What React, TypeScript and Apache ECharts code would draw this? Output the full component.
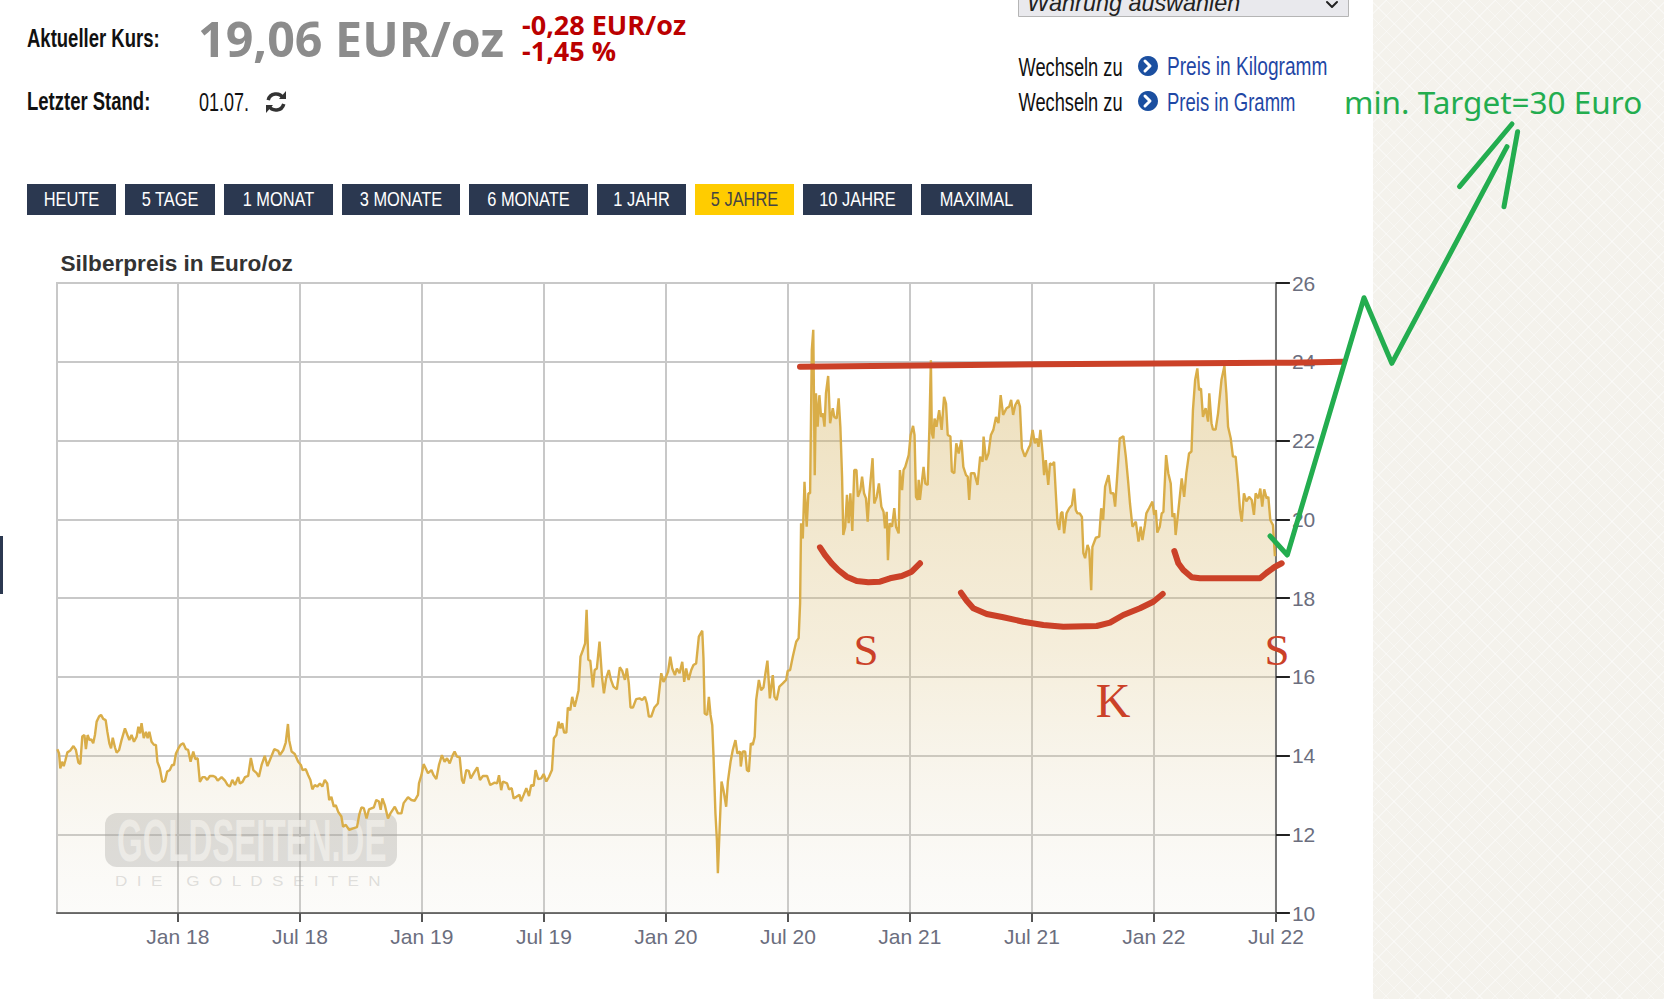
import React, { useEffect, useRef } from "react";
import * as echarts from "echarts";

const yAxisMin = 10;
const yAxisMax = 26;
const yInterval = 2;
const xMin = 2017.5045;
const xMax = 2022.5;
const tickYears = [2018, 2018.5, 2019, 2019.5, 2020, 2020.5, 2021, 2021.5, 2022, 2022.5];
const tickLabels = ["Jan 18", "Jul 18", "Jan 19", "Jul 19", "Jan 20", "Jul 20", "Jan 21", "Jul 21", "Jan 22", "Jul 22"];

const dates = [
  2017.506,2017.513,2017.518,2017.525,2017.532,2017.539,2017.547,2017.558,2017.572,2017.582,2017.592,2017.6,2017.608,2017.617,2017.623,2017.63,2017.638,2017.645,2017.653,2017.66,2017.667,2017.677,2017.685,2017.694,2017.704,2017.711,2017.719,2017.726,2017.733,2017.742,2017.749,2017.759,2017.769,2017.783,2017.793,2017.801,2017.81,2017.82,2017.831,2017.838,2017.845,2017.851,2017.86,2017.869,2017.876,2017.883,2017.892,2017.902,2017.91,2017.916,2017.926,2017.936,2017.947,2017.956,2017.967,2017.976,2017.984,2017.992,
  2018.002,2018.011,2018.022,2018.033,2018.042,2018.052,2018.063,2018.071,2018.081,2018.09,2018.101,2018.111,2018.12,2018.131,2018.145,2018.154,2018.163,2018.179,2018.193,2018.204,2018.213,2018.223,2018.234,2018.247,2018.254,2018.265,2018.275,2018.288,2018.299,2018.309,2018.322,2018.332,2018.343,2018.356,2018.367,2018.38,2018.395,2018.411,2018.418,2018.432,2018.442,2018.451,2018.456,2018.466,2018.479,2018.493,
  2018.504,2018.511,2018.524,2018.534,2018.543,2018.551,2018.561,2018.571,2018.582,2018.592,2018.602,2018.612,2018.62,2018.629,2018.639,2018.647,2018.657,2018.67,2018.677,2018.688,2018.702,2018.718,2018.734,2018.743,2018.752,2018.762,2018.773,2018.783,2018.803,2018.813,2018.824,2018.831,2018.838,2018.848,2018.861,2018.871,2018.889,2018.902,2018.916,2018.925,2018.943,2018.957,2018.97,2018.984,2018.988,2018.998,
  2019.007,2019.016,2019.025,2019.039,2019.048,2019.059,2019.07,2019.082,2019.093,2019.103,2019.114,2019.125,2019.134,2019.144,2019.155,2019.164,2019.171,2019.182,2019.192,2019.2,2019.216,2019.227,2019.238,2019.25,2019.267,2019.28,2019.298,2019.308,2019.316,2019.325,2019.332,2019.349,2019.357,2019.368,2019.376,2019.387,2019.4,2019.406,2019.417,2019.428,2019.439,2019.448,2019.458,2019.466,2019.477,2019.489,
  2019.499,2019.51,2019.521,2019.533,2019.541,2019.551,2019.56,2019.568,2019.575,2019.583,2019.592,2019.598,2019.608,2019.616,2019.626,2019.633,2019.642,2019.65,2019.66,2019.669,2019.675,2019.682,2019.69,2019.701,2019.708,2019.717,2019.728,2019.738,2019.746,2019.755,2019.766,2019.775,2019.785,2019.799,2019.811,2019.821,2019.832,2019.84,2019.848,2019.855,2019.865,2019.878,2019.892,2019.903,2019.914,2019.922,2019.93,2019.94,2019.953,2019.967,2019.981,2019.99,2019.998,
  2020.009,2020.018,2020.026,2020.037,2020.045,2020.056,2020.067,2020.075,2020.083,2020.093,2020.104,2020.113,2020.124,2020.135,2020.149,2020.154,2020.159,2020.169,2020.176,2020.183,2020.19,2020.195,2020.203,2020.209,2020.213,2020.22,2020.228,2020.236,2020.247,2020.254,2020.265,2020.274,2020.285,2020.293,2020.304,2020.307,2020.315,2020.325,2020.332,2020.34,2020.348,2020.356,2020.364,2020.37,2020.381,2020.39,2020.4,2020.408,2020.416,2020.426,2020.438,2020.445,2020.454,2020.465,2020.479,2020.493,2020.499,2020.509,2020.52,2020.534,2020.544,
  2020.55,2020.554,2020.561,2020.568,2020.577,2020.584,2020.591,2020.598,2020.604,2020.61,2020.615,2020.622,2020.629,2020.636,2020.643,2020.65,2020.656,2020.665,2020.673,2020.684,2020.69,2020.7,2020.708,2020.715,2020.722,2020.727,2020.735,2020.742,2020.749,2020.756,2020.764,2020.772,2020.781,2020.787,2020.797,2020.804,2020.812,2020.82,2020.827,2020.834,2020.847,2020.854,2020.864,2020.873,2020.883,2020.892,2020.898,2020.905,2020.91,2020.917,2020.927,2020.936,2020.943,2020.954,2020.959,2020.968,2020.974,2020.981,2020.995,
  2021.003,2021.013,2021.019,2021.025,2021.032,2021.036,2021.041,2021.05,2021.056,2021.063,2021.073,2021.08,2021.086,2021.09,2021.096,2021.101,2021.109,2021.12,2021.13,2021.14,2021.148,2021.155,2021.166,2021.172,2021.182,2021.19,2021.2,2021.211,2021.219,2021.23,2021.237,2021.243,2021.25,2021.264,2021.277,2021.288,2021.298,2021.302,2021.312,2021.322,2021.332,2021.342,2021.353,2021.363,2021.372,2021.382,2021.396,2021.407,2021.415,2021.423,2021.432,2021.443,2021.451,2021.459,2021.471,2021.489,
  2021.493,2021.503,2021.512,2021.52,2021.527,2021.535,2021.544,2021.55,2021.557,2021.567,2021.574,2021.584,2021.591,2021.598,2021.605,2021.612,2021.619,2021.625,2021.632,2021.642,2021.653,2021.664,2021.673,2021.68,2021.687,2021.696,2021.705,2021.711,2021.718,2021.728,2021.735,2021.743,2021.748,2021.762,2021.776,2021.784,2021.792,2021.8,2021.814,2021.823,2021.834,2021.841,2021.849,2021.86,2021.875,2021.885,2021.894,2021.902,2021.912,2021.926,2021.937,2021.946,2021.953,2021.963,2021.969,2021.98,2021.994,
  2022.001,2022.008,2022.014,2022.024,2022.032,2022.039,2022.05,2022.059,2022.069,2022.076,2022.084,2022.089,2022.099,2022.114,2022.124,2022.133,2022.144,2022.154,2022.16,2022.169,2022.178,2022.185,2022.193,2022.201,2022.212,2022.222,2022.227,2022.236,2022.242,2022.253,2022.263,2022.277,2022.289,2022.297,2022.304,2022.315,2022.324,2022.335,2022.345,2022.353,2022.36,2022.369,2022.379,2022.39,2022.401,2022.41,2022.417,2022.428,2022.436,2022.444,2022.452,2022.462,2022.469,2022.477,2022.488,2022.496,
];

const prices = [
  14.16,14.05,13.67,13.84,13.73,13.88,14.08,14.12,14.24,14.14,13.82,13.78,14.48,14.52,14.16,14.52,14.39,14.41,14.31,14.52,14.86,14.99,15.03,14.93,14.9,14.6,14.31,14.18,14.45,14.21,14.07,14.14,14.39,14.69,14.52,14.39,14.52,14.35,14.48,14.73,14.56,14.82,14.44,14.6,14.44,14.6,14.35,14.27,14.27,13.84,13.67,13.33,13.35,13.59,13.63,13.76,13.76,14.05,
  14.18,14.27,14.31,14.16,14.14,13.84,14.1,13.91,13.93,13.33,13.45,13.45,13.38,13.48,13.48,13.45,13.36,13.45,13.36,13.25,13.21,13.38,13.25,13.45,13.29,13.33,13.45,13.48,13.94,13.63,13.56,13.46,13.76,13.99,13.73,13.93,14.16,14.12,14.01,14.14,14.33,14.8,14.39,14.1,14.04,13.84,
  13.76,13.63,13.65,13.5,13.38,13.14,13.25,13.21,13.29,13.21,13.38,13.29,12.87,12.95,12.7,12.74,12.57,12.45,12.19,12.24,12.11,12.15,12.18,12.49,12.68,12.66,12.4,12.63,12.68,12.87,12.83,12.62,12.91,12.74,12.4,12.53,12.7,12.53,12.53,12.79,12.94,12.87,12.85,13,13.29,13.5,
  13.78,13.67,13.55,13.63,13.5,13.4,13.76,14.01,13.84,13.93,13.8,13.99,14.1,13.97,13.95,13.38,13.29,13.63,13.61,13.42,13.59,13.7,13.38,13.48,13.48,13.25,13.31,13.29,13.5,13.12,13.34,13.29,13.14,13.17,12.91,12.95,13,12.84,13,13.17,12.97,13.25,13.23,13.63,13.4,13.42,
  13.53,13.34,13.46,13.63,14.44,14.52,14.86,14.69,14.82,14.58,14.58,15.22,15.15,15.49,15.24,15.41,15.66,16.51,16.68,16.85,17.7,16.43,16.41,15.73,16.17,16.21,16.89,16,15.58,15.96,16.17,15.92,15.75,15.68,16.24,16.15,15.92,16.21,15.83,15.22,15.22,15.43,15.45,15.41,15.49,15.32,14.99,14.99,15.22,15.32,16.09,15.87,15.96,
  16.13,16.51,16.21,16.04,16.21,16.09,16.38,15.87,16.21,15.92,16.17,16.3,16.34,17.02,17.17,16.47,15.07,15.03,15.49,15.03,14.77,14.01,12.53,11.85,11.01,12.11,13.34,13.12,12.7,13.34,13.84,14.14,14.39,14.05,14.1,13.72,14.1,14.1,13.63,13.59,14.31,14.27,14.48,15.41,15.92,15.66,15.73,16.09,16.41,15.45,16.04,15.49,15.41,15.75,15.83,15.92,16.15,16.17,16.51,16.89,16.98,
  17.86,19.9,19.51,20.95,19.81,20.66,20.66,24.3,24.81,21.12,23.2,22.35,23.15,22.6,22.69,22.35,23.2,23.64,22.44,22.82,22.6,22.56,23.07,22.35,21.08,19.6,19.81,20.62,19.9,20.66,19.7,21.25,21.25,20.57,20.74,21.08,20.66,20.53,19.94,20.66,21.55,20.4,20.57,20.91,20.32,20.19,19.77,20.19,18.96,19.9,19.81,20.28,19.81,19.64,21.25,20.74,21.25,21.33,21.63,
  22.14,22.37,22.14,20.57,20.49,21,20.49,21,21.33,20.91,20.87,22.35,24.04,22.18,22.05,22.56,22.35,22.77,22.27,23.11,22.94,22.14,22.1,21.21,21.17,21.93,21.67,22.01,21.33,21.12,21.08,20.49,21.17,21.17,20.87,21.59,21.46,22.1,21.5,21.67,22.14,22.27,22.6,22.44,23.15,22.65,22.82,22.86,23.03,22.65,22.9,23.03,22.86,21.8,21.59,21.84,
  21.88,22.27,21.93,22.05,21.84,22.27,21.67,21.12,21.5,20.87,21.42,21.38,21.46,20.66,19.9,19.73,20.15,20.19,19.64,20.15,20.28,20.36,20.78,20.23,20.15,20.15,20.06,19.14,19.01,19.35,19.22,18.2,19.3,19.53,19.56,20.28,19.98,20.83,21.12,20.66,20.66,20.32,21.04,22.05,22.11,21.59,20.99,20.4,19.81,19.94,19.43,19.81,19.47,19.85,20.15,20.28,20.45,
  20.11,20.23,19.66,19.81,20.15,20.19,21.63,21.17,20.91,20.06,20.15,19.6,20.15,21.04,20.57,21.17,21.67,21.72,22.77,23.54,23.83,23.28,23.32,22.6,22.82,22.48,23.2,22.44,22.28,22.28,22.69,23.54,23.89,23.2,22.35,22.05,21.59,21.59,20.91,20.23,19.94,20.66,20.45,20.57,20.49,20.11,20.66,20.53,20.78,20.32,20.76,20.53,20.57,19.98,19.85,19.06,
];

const rangeButtons = ["HEUTE", "5 TAGE", "1 MONAT", "3 MONATE", "6 MONATE", "1 JAHR", "5 JAHRE", "10 JAHRE", "MAXIMAL"];
const activeRange = "5 JAHRE";
const buttonEdges = [[27,116],[125,215],[224,333],[342,460],[469,588],[597,686],[695,794],[803,912],[921,1032]];

const ARIAL = '"Liberation Sans", Arial, sans-serif';

function txt(x: number, y: number, text: string, font: string, fill: string, extra: any = {}) {
  const { scaleX, z, align, ...rest } = extra;
  return {
    type: "text",
    x,
    y,
    scaleX: scaleX ?? 1,
    z: z ?? 5,
    style: { text, font, fill, align: align ?? "left", verticalAlign: "middle", ...rest },
  };
}

function stroke(points: number[][], color: string, width: number, z = 10) {
  return {
    type: "polyline",
    z,
    shape: { points },
    style: { stroke: color, lineWidth: width, fill: "none", lineCap: "round", lineJoin: "round" },
  };
}

const RED = "#cb4128";
const GREEN = "#23ad4f";

function buildGraphics() {
  const g: any[] = [];
  // header
  g.push(txt(27, 38, "Aktueller Kurs:", `bold 25px ${ARIAL}`, "#111", { scaleX: 0.74 }));
  g.push(txt(198, 38, "19,06 EUR/oz", 'bold 48.4px "Open Sans", sans-serif', "#8c8c8c"));
  g.push(txt(522, 24, "-0,28 EUR/oz", 'bold 27px "Open Sans", sans-serif', "#bb0000"));
  g.push(txt(522, 50, "-1,45 %", 'bold 27px "Open Sans", sans-serif', "#bb0000"));
  g.push(txt(27, 101, "Letzter Stand:", `bold 25px ${ARIAL}`, "#111", { scaleX: 0.74 }));
  g.push(txt(199, 102, "01.07.", `25px ${ARIAL}`, "#111", { scaleX: 0.72 }));
  // refresh icon
  g.push({ type: "arc", z: 5, shape: { cx: 276, cy: 102, r: 8, startAngle: -2.9, endAngle: -0.5 }, style: { stroke: "#333", lineWidth: 3.5, fill: "none" } });
  g.push({ type: "arc", z: 5, shape: { cx: 276, cy: 102, r: 8, startAngle: 0.25, endAngle: 2.65 }, style: { stroke: "#333", lineWidth: 3.5, fill: "none" } });
  g.push({ type: "polygon", z: 5, shape: { points: [[279, 99], [286, 99], [286, 91]] }, style: { fill: "#333" } });
  g.push({ type: "polygon", z: 5, shape: { points: [[266, 105], [273, 105], [266, 113]] }, style: { fill: "#333" } });

  // range buttons
  rangeButtons.forEach((label, i) => {
    const [a, b] = buttonEdges[i];
    const active = label === activeRange;
    g.push({ type: "rect", z: 4, shape: { x: a, y: 184, width: b - a, height: 31 }, style: { fill: active ? "#ffcc00" : "#2b3850" } });
    g.push(txt((a + b) / 2, 199, label, `20px ${ARIAL}`, active ? "#444" : "#fff", { align: "center", scaleX: 0.82 }));
  });

  // currency select
  g.push({ type: "rect", z: 4, shape: { x: 1018.5, y: -4, width: 330, height: 20.5 }, style: { fill: "#e9e9ed", stroke: "#b5b5b5", lineWidth: 1 } });
  g.push(txt(1027, 3, "Währung auswählen", `italic 23.4px ${ARIAL}`, "#222"));
  g.push(stroke([[1327, 2], [1332, 7], [1337, 2]], "#222", 2, 5));

  // unit links
  [["Preis in Kilogramm", 67], ["Preis in Gramm", 102]].forEach(([label, y]: any) => {
    g.push(txt(1018.5, y, "Wechseln zu", `25px ${ARIAL}`, "#111", { scaleX: 0.73 }));
    g.push({ type: "circle", z: 5, shape: { cx: 1148, cy: y - 1, r: 10 }, style: { fill: "#1b4fa0" } });
    g.push(stroke([[1145, y - 6], [1150, y - 1], [1145, y + 4]], "#fff", 3, 6));
    g.push(txt(1167, y, label, `25px ${ARIAL}`, "#1f47a5", { scaleX: label === "Preis in Kilogramm" ? 0.765 : 0.74 }));
  });

  // chart title
  g.push(txt(60.5, 263, "Silberpreis in Euro/oz", `bold 22.6px ${ARIAL}`, "#333"));

  // watermark
  g.push({ type: "rect", z: 1, shape: { x: 105, y: 813, width: 292, height: 54, r: 12 }, style: { fill: "rgba(150,150,150,0.33)" } });
  g.push(txt(117, 840, "GOLDSEITEN.DE", `bold 60px ${ARIAL}`, "rgba(246,246,246,0.72)", { z: 1, scaleX: 0.55 }));
  g.push(txt(115, 880, "D  I  E     G  O  L  D  S  E  I  T  E  N", `15px ${ARIAL}`, "rgba(170,170,170,0.4)", { z: 1, scaleX: 1.14 }));

  // red resistance line and neckline curves
  g.push(stroke([[800, 366.7], [1040, 364.3], [1290, 362.7], [1343, 361.7]], RED, 6));
  g.push(stroke([[820, 547.3], [825, 555], [831.7, 563.3], [838.3, 570], [846.7, 576.7], [856.7, 581], [868.3, 582.3], [880, 581.7], [890, 578.3], [901.7, 576], [911.7, 571.7], [920, 563.3]], RED, 6));
  g.push(stroke([[961, 592.7], [966.7, 600.7], [973.3, 608.3], [986.7, 614], [1003.3, 617.3], [1023.3, 621.7], [1043.3, 625], [1063.3, 626.7], [1096.7, 626], [1110, 622.7], [1123.3, 615], [1140, 608.3], [1153.3, 601.7], [1162.7, 594]], RED, 6));
  g.push(stroke([[1174.3, 551], [1178.3, 563.3], [1183.3, 570], [1191.7, 577.3], [1200, 578.3], [1260, 578.3], [1266.7, 572.7], [1275, 566.7], [1281.7, 563.3]], RED, 6));
  const serif = '"Liberation Serif", serif';
  g.push(txt(866, 650, "S", `45px ${serif}`, RED, { align: "center", z: 10 }));
  g.push(txt(1113, 700, "K", `48px ${serif}`, RED, { align: "center", z: 10 }));
  g.push(txt(1277, 650, "S", `45px ${serif}`, RED, { align: "center", z: 10 }));

  // green projection
  g.push(stroke([[1270, 536], [1287.3, 555], [1364, 297.7], [1391.8, 363.3], [1507, 146.7]], GREEN, 5, 11));
  g.push(stroke([[1459.5, 186.7], [1512, 124]], GREEN, 5, 11));
  g.push(stroke([[1517.6, 131.7], [1504, 206.7]], GREEN, 5, 11));
  g.push(txt(1344, 101, "min. Target=30 Euro", '31.5px "Noto Sans", sans-serif', GREEN, { z: 11 }));

  // page side marker
  g.push({ type: "rect", z: 4, shape: { x: 0, y: 536, width: 3, height: 58 }, style: { fill: "#2b3850" } });
  return g;
}

export default function App() {
  const ref = useRef<HTMLDivElement>(null);
  useEffect(() => {
    const chart = echarts.init(ref.current!, undefined, { renderer: "svg" });
    chart.setOption({
      animation: false,
      backgroundColor: "transparent",
      grid: {
        left: 57,
        top: 283,
        width: 1218.9,
        height: 630,
        show: true,
        borderColor: "#c8c8c8",
        borderWidth: 2,
        backgroundColor: "transparent",
      },
      xAxis: {
        type: "value",
        min: xMin,
        max: xMax,
        axisLine: { show: true, onZero: false, lineStyle: { color: "#666", width: 2 } },
        axisTick: { show: true, customValues: tickYears, length: 9, lineStyle: { color: "#555", width: 2 } },
        axisLabel: {
          customValues: tickYears,
          margin: 13,
          fontSize: 21,
          fontFamily: ARIAL,
          color: "#6b6e7e",
          formatter: (v: number) => tickLabels[tickYears.indexOf(v)] ?? "",
        },
        splitLine: { show: true, lineStyle: { color: "#c8c8c8", width: 2 } },
      },
      yAxis: {
        type: "value",
        position: "right",
        min: yAxisMin,
        max: yAxisMax,
        interval: yInterval,
        axisLine: { show: true, onZero: false, lineStyle: { color: "#777", width: 2 } },
        axisTick: { show: true, length: 14, lineStyle: { color: "#222", width: 2 } },
        axisLabel: { margin: 16, fontSize: 21, fontFamily: ARIAL, color: "#6b6e7e" },
        splitLine: { show: true, lineStyle: { color: "#c8c8c8", width: 2 } },
      },
      series: [
        {
          type: "line",
          data: dates.map((d, i) => [d, prices[i]]),
          symbol: "none",
          smooth: false,
          z: 3,
          lineStyle: { color: "#d9ad48", width: 2.4 },
          areaStyle: {
            origin: "start",
            color: new echarts.graphic.LinearGradient(0, 0, 0, 1, [
              { offset: 0, color: "rgba(212,176,90,0.62)" },
              { offset: 0.55, color: "rgba(218,190,120,0.38)" },
              { offset: 1, color: "rgba(225,220,205,0.16)" },
            ]),
          },
        },
      ],
      graphic: { elements: buildGraphics() },
    });
    return () => chart.dispose();
  }, []);

  const lattice =
    "repeating-linear-gradient(45deg, rgba(255,255,255,0.4) 0 1px, transparent 1px 11px), repeating-linear-gradient(-45deg, rgba(255,255,255,0.4) 0 1px, transparent 1px 11px)";
  return (
    <div style={{ position: "absolute", left: 0, top: 0, width: 1664, height: 999, background: "#fff", overflow: "hidden" }}>
      <div style={{ position: "absolute", left: 1373, top: 0, width: 291, height: 999, backgroundColor: "#f4f2ec", backgroundImage: lattice }} />
      <div ref={ref} style={{ position: "absolute", left: 0, top: 0, width: 1664, height: 999 }} />
    </div>
  );
}
